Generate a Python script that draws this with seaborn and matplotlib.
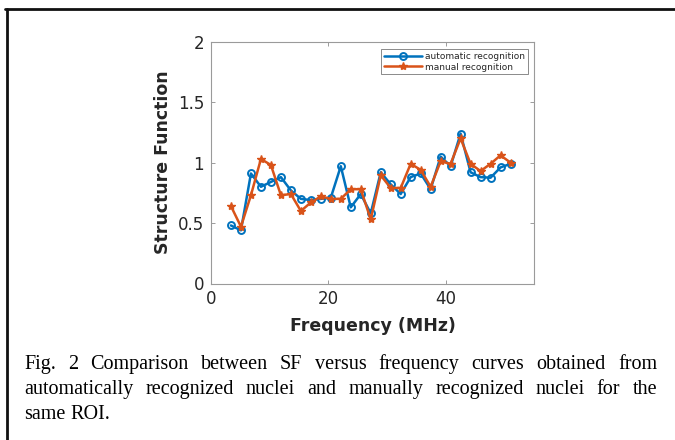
import matplotlib
matplotlib.use("Agg")
import matplotlib.pyplot as plt
from matplotlib.lines import Line2D
import seaborn as sns

# data
freq = [3.4, 5.1, 6.8, 8.5, 10.2, 11.9, 13.6, 15.3, 17.0, 18.7,
        20.4, 22.1, 23.8, 25.5, 27.2, 28.9, 30.6, 32.3, 34.0, 35.7,
        37.4, 39.1, 40.8, 42.5, 44.2, 45.9, 47.6, 49.3, 51.0]
sf_auto = [0.48, 0.44, 0.91, 0.80, 0.84, 0.88, 0.77, 0.70, 0.69, 0.70,
           0.71, 0.97, 0.63, 0.74, 0.58, 0.92, 0.82, 0.74, 0.88, 0.91,
           0.78, 1.05, 0.97, 1.24, 0.92, 0.88, 0.875, 0.96, 0.99]
sf_manual = [0.64, 0.47, 0.73, 1.03, 0.98, 0.73, 0.74, 0.60, 0.67, 0.72,
             0.70, 0.70, 0.78, 0.78, 0.53, 0.895, 0.79, 0.79, 0.99, 0.94,
             0.80, 1.01, 0.99, 1.20, 0.99, 0.93, 0.99, 1.06, 1.00]
series_names = ["automatic recognition", "manual recognition"]
caption_lines = [
    "Fig. 2 Comparison between SF versus frequency curves obtained from",
    "automatically recognized nuclei and manually recognized nuclei for the",
    "same ROI.",
]

sns.set_theme(style="white")
plt.rcParams['font.family'] = ['DejaVu Sans']

blue = "#0072BD"
orange = "#D95319"
dark = "#262626"

fig = plt.figure(figsize=(6.75, 4.4), dpi=100)
ax = fig.add_axes([211 / 675, 1 - 283.5 / 440, 323 / 675, 241.8 / 440])

auto_style = dict(color=blue, linewidth=1.8, marker="o", markersize=5,
                  markerfacecolor="none", markeredgecolor=blue, markeredgewidth=1.4)
manual_style = dict(color=orange, linewidth=1.8, marker="*", markersize=6,
                    markerfacecolor=orange, markeredgecolor=orange, markeredgewidth=1.0)

sns.lineplot(x=freq, y=sf_auto, ax=ax, sort=False, legend=False, **auto_style)
sns.lineplot(x=freq, y=sf_manual, ax=ax, sort=False, legend=False, **manual_style)

ax.set_xlim(0, 55)
ax.set_ylim(0, 2)
ax.set_xticks([0, 20, 40])
ax.set_yticks([0, 0.5, 1, 1.5, 2])
ax.set_yticklabels(["0", "0.5", "1", "1.5", "2"])
ax.tick_params(direction="in", length=3, width=0.6, colors="#8c8c8c",
               labelcolor=dark, labelsize=12, top=True, right=True,
               bottom=True, left=True)
ax.tick_params(axis="x", pad=5)
ax.tick_params(axis="y", pad=5)
for sp in ax.spines.values():
    sp.set_color("#9a9a9a")
    sp.set_linewidth(0.8)
ax.set_xlabel("Frequency (MHz)", fontsize=12.5, fontweight="bold", color=dark, labelpad=6)
ax.set_ylabel("Structure Function", fontsize=12.5, fontweight="bold", color=dark, labelpad=4)

handles = [Line2D([], [], **auto_style), Line2D([], [], **manual_style)]
leg = ax.legend(handles, series_names, loc="upper right",
                bbox_to_anchor=(0.982, 0.968), fontsize=6.5, numpoints=1,
                handlelength=4.2, handletextpad=0.4, borderpad=0.3,
                labelspacing=0.15, frameon=True, fancybox=False,
                borderaxespad=0)
leg.get_frame().set_edgecolor("#555555")
leg.get_frame().set_linewidth(0.6)
for t in leg.get_texts():
    t.set_color(dark)

# page frame lines (top and left)
fig.add_artist(Line2D([6.5 / 675, 6.5 / 675], [0, 1 - 9 / 440],
                      transform=fig.transFigure, color="#111111", linewidth=2))
fig.add_artist(Line2D([5.5 / 675, 1], [1 - 9 / 440, 1 - 9 / 440],
                      transform=fig.transFigure, color="#111111", linewidth=2))

# justified caption
fig.canvas.draw()
renderer = fig.canvas.get_renderer()
cap_size = 14.5
left_px, right_px = 24, 657
baselines = [369, 394, 418.5]
for i, line in enumerate(caption_lines):
    words = line.split(" ")
    texts = []
    widths = []
    for w in words:
        t = fig.text(0, 1 - baselines[i] / 440, w, fontsize=cap_size,
                     family="Liberation Serif", color="black", va="baseline")
        widths.append(t.get_window_extent(renderer).width)
        texts.append(t)
    if i < len(caption_lines) - 1:
        gap = (right_px - left_px - sum(widths)) / (len(words) - 1)
    else:
        space = fig.text(0, 0, "a a", fontsize=cap_size, family="Liberation Serif")
        aa = fig.text(0, 0, "aa", fontsize=cap_size, family="Liberation Serif")
        gap = space.get_window_extent(renderer).width - aa.get_window_extent(renderer).width
        space.remove()
        aa.remove()
    x = left_px
    for t, w in zip(texts, widths):
        t.set_x(x / 675)
        x += w + gap

fig.savefig("out.png", dpi=100)
